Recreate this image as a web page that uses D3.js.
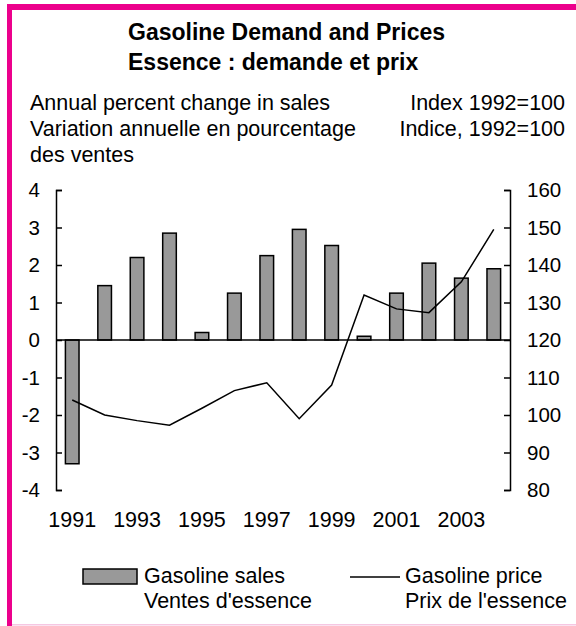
<!DOCTYPE html>
<html>
<head>
<meta charset="utf-8">
<script src="https://cdn.jsdelivr.net/npm/d3@7"></script>
<style>
	body { margin: 0; background: #fff; }
	text { font-family: "Liberation Sans", Arial, sans-serif; fill: #000; }
	.axis path, .axis line { stroke: #000; stroke-width: 1.5; }
	.axis text { font-size: 20.5px; }
</style>
</head>
<body>
<script>
//chart data
var years = [1991, 1992, 1993, 1994, 1995, 1996, 1997, 1998, 1999, 2000, 2001, 2002, 2003, 2004];
var sales = [-3.3, 1.45, 2.2, 2.85, 0.2, 1.25, 2.25, 2.95, 2.52, 0.1, 1.25, 2.05, 1.65, 1.9]; //annual % change
var price = [104, 100, 98.5, 97.3, 101.8, 106.5, 108.6, 99, 108, 132, 128.3, 127.3, 135.5, 149.5]; //index 1992=100
var yearLabels = [1991, 1993, 1995, 1997, 1999, 2001, 2003];
var leftTicks = [-4, -3, -2, -1, 0, 1, 2, 3, 4];
var rightTicks = [80, 90, 100, 110, 120, 130, 140, 150, 160];

window.onload = function(){
	var w = 576, h = 626;
	var pink = "#ec008c";
	var fs = "21.5px"; //body text size

	var svg = d3.select("body")
		.append("svg")
		.attr("width", w)
		.attr("height", h);

	//frame: pink top and left, faint pink bottom
	svg.append("rect").attr("x", 7).attr("y", 4).attr("width", w - 7).attr("height", 6).style("fill", pink);
	svg.append("rect").attr("x", 7).attr("y", 4).attr("width", 5).attr("height", h - 4).style("fill", pink);
	svg.append("rect").attr("x", 12).attr("y", 624).attr("width", w - 12).attr("height", 1.5).style("fill", "#f6c6e2");

	//titles
	svg.append("text").attr("x", 128).attr("y", 40)
		.style("font-size", "23px").style("font-weight", "bold")
		.text("Gasoline Demand and Prices");
	svg.append("text").attr("x", 128).attr("y", 70)
		.style("font-size", "23px").style("font-weight", "bold")
		.text("Essence : demande et prix");

	//axis captions
	var leftCap = ["Annual percent change in sales", "Variation annuelle en pourcentage", "des ventes"];
	leftCap.forEach(function(t, i){
		svg.append("text").attr("x", 30).attr("y", 110 + i * 26)
			.style("font-size", fs).text(t);
	});
	var rightCap = ["Index 1992=100", "Indice, 1992=100"];
	rightCap.forEach(function(t, i){
		svg.append("text").attr("x", 565).attr("y", 110 + i * 26)
			.attr("text-anchor", "end")
			.style("font-size", fs).text(t);
	});

	//scales
	var x = d3.scaleBand()
		.domain(years)
		.range([56, 510])
		.paddingInner(0.58)
		.paddingOuter(0.29);
	var yL = d3.scaleLinear().domain([-4, 4]).range([490, 190]);
	var yR = d3.scaleLinear().domain([80, 160]).range([490, 190]);

	//bars
	svg.selectAll(".bar")
		.data(years)
		.enter()
		.append("rect")
		.attr("class", "bar")
		.attr("x", function(d){ return x(d); })
		.attr("width", x.bandwidth())
		.attr("y", function(d, i){ return yL(Math.max(0, sales[i])); })
		.attr("height", function(d, i){ return Math.abs(yL(sales[i]) - yL(0)); })
		.style("fill", "#999999")
		.style("stroke", "#000")
		.style("stroke-width", 1.5);

	//zero line
	svg.append("line")
		.attr("x1", 56).attr("x2", 510)
		.attr("y1", yL(0)).attr("y2", yL(0))
		.style("stroke", "#000").style("stroke-width", 1.5);

	//price line
	var line = d3.line()
		.x(function(d){ return x(d) + x.bandwidth() / 2; })
		.y(function(d, i){ return yR(price[i]); });
	svg.append("path")
		.datum(years)
		.attr("d", line)
		.style("fill", "none")
		.style("stroke", "#000")
		.style("stroke-width", 1.5);

	//left axis, ticks point inward, plain hyphen for minus
	svg.append("g")
		.attr("class", "axis")
		.attr("transform", "translate(56,0)")
		.call(d3.axisLeft(yL).tickValues(leftTicks).tickSize(-6).tickPadding(16)
			.tickFormat(function(d){ return String(d); }));

	//right axis
	svg.append("g")
		.attr("class", "axis")
		.attr("transform", "translate(510,0)")
		.call(d3.axisRight(yR).tickValues(rightTicks).tickSize(-6).tickPadding(17));

	//year labels under the bars
	svg.selectAll(".yr")
		.data(yearLabels)
		.enter()
		.append("text")
		.attr("class", "yr")
		.attr("x", function(d){ return x(d) + x.bandwidth() / 2; })
		.attr("y", 527)
		.attr("text-anchor", "middle")
		.style("font-size", fs)
		.text(function(d){ return d; });

	//legend
	svg.append("rect").attr("x", 83).attr("y", 569).attr("width", 54).attr("height", 15)
		.style("fill", "#999999").style("stroke", "#000").style("stroke-width", 1.5);
	svg.append("text").attr("x", 144).attr("y", 583).style("font-size", fs).text("Gasoline sales");
	svg.append("text").attr("x", 144).attr("y", 608).style("font-size", fs).text("Ventes d'essence");
	svg.append("line").attr("x1", 350).attr("x2", 400).attr("y1", 577).attr("y2", 577)
		.style("stroke", "#000").style("stroke-width", 1.5);
	svg.append("text").attr("x", 405).attr("y", 583).style("font-size", fs).text("Gasoline price");
	svg.append("text").attr("x", 405).attr("y", 608).style("font-size", fs).text("Prix de l'essence");
};
</script>
</body>
</html>
